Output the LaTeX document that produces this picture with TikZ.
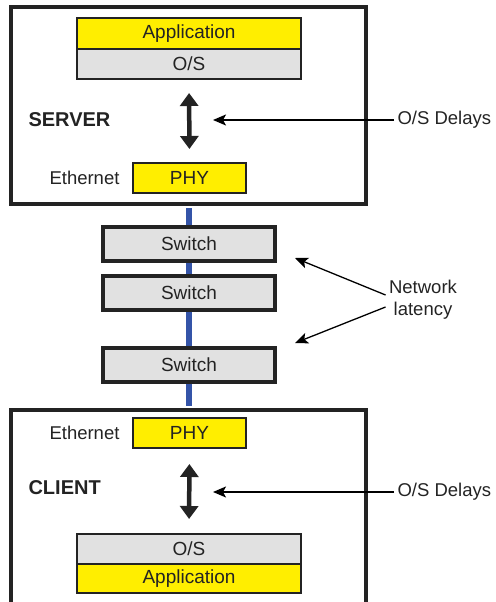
\documentclass[tikz,border=0pt]{standalone}
\usepackage{fontspec}
\setmainfont{Liberation Sans}
\usetikzlibrary{arrows.meta}
\definecolor{appyellow}{RGB}{255,238,0}
\definecolor{osgray}{RGB}{225,225,225}
\definecolor{netblue}{RGB}{52,84,168}
\definecolor{ink}{RGB}{35,35,35}

\begin{document}
\begin{tikzpicture}[x=1pt, y=-1pt, text=ink,
        host/.style={draw=ink, line width=4pt, fill=white, minimum width=355pt, inner sep=0},
        layer/.style={draw=ink, line width=2pt, minimum width=224pt, inner sep=0, font=\fontsize{19}{21}\selectfont},
        phybox/.style={draw=ink, line width=2pt, fill=appyellow, minimum width=113pt, minimum height=30pt, inner sep=0, font=\fontsize{19}{21}\selectfont},
        switchbox/.style={draw=ink, line width=3.5pt, fill=osgray, minimum width=172pt, minimum height=34pt, inner sep=0, font=\fontsize{19}{21}\selectfont},
        plain/.style={font=\fontsize{18.5}{22}\selectfont},
        hostname/.style={font=\fontsize{20}{22}\selectfont\bfseries},
        bigarrow/.style={ink, line width=4.5pt, {Triangle[width=18pt 0 0,length=13pt 0 0]}-{Triangle[width=18pt 0 0,length=13pt 0 0]}},
        thinarrow/.style={black, line width=1.3pt, -{Stealth[width=11pt 0 0,length=13pt 0 0,inset=3pt]}}]
    \useasboundingbox (0,0) rectangle (495,602);
    % Define hosts
        \node (server) [host, minimum height=197pt] at (188.5,105.5) {};
        \node (client) [host, minimum height=200pt] at (188.5,510) {};
        % Draw link
        \draw[netblue, line width=6pt, shorten <=2pt, shorten >=2pt] (server.south) -- (client.north);
        % Define server stack
        \node (app1) [layer, fill=appyellow, minimum height=31pt] at (189,33.5) {Application};
        \node (os1) [layer, fill=osgray, minimum height=30pt] at (189,64) {O/S};
        \node (phy1) [phybox] at (189.5,178) {PHY};
        \node (eth1) [plain, anchor=east] at ([xshift=-9pt]phy1.west) {Ethernet};
        \node (srv) [hostname, anchor=west] at (25,120) {SERVER};
        % Define switches
        \node (sw1) [switchbox] at (189,244) {Switch};
        \node (sw2) [switchbox] at (189,293) {Switch};
        \node (sw3) [switchbox] at (189,365) {Switch};
        % Define client stack
        \node (phy2) [phybox] at (189.5,433) {PHY};
        \node (eth2) [plain, anchor=east] at ([xshift=-9pt]phy2.west) {Ethernet};
        \node (cli) [hostname, anchor=west] at (25,488) {CLIENT};
        \node (os2) [layer, fill=osgray, minimum height=30pt] at (189,549) {O/S};
        \node (app2) [layer, fill=appyellow, minimum height=29pt] at (189,578.5) {Application};
        % Define labels
        \node (dly1) [plain, anchor=west] at (394,120) {O/S Delays};
        \node (dly2) [plain, anchor=west] at (394,492) {O/S Delays};
        \node (lat) [plain, align=center] at (423,300) {Network\\latency};
        \coordinate (tip1) at (213,120);
        \coordinate (tip2) at (213,492);
        \coordinate (tip3) at (295,258);
        \coordinate (tip4) at (295,343);
        % Draw arrows
        \draw[bigarrow, shorten <=13pt, shorten >=13pt] (os1.south) -- (phy1.north);
        \draw[bigarrow, shorten <=15pt, shorten >=14pt] (phy2.south) -- (os2.north);
        \draw[thinarrow] (dly1.west) -- (tip1);
        \draw[thinarrow] (dly2.west) -- (tip2);
        \draw[thinarrow] ([yshift=5pt]lat.west) -- (tip3);
        \draw[thinarrow] ([yshift=-7pt]lat.west) -- (tip4);
    \end{tikzpicture}
\end{document}
